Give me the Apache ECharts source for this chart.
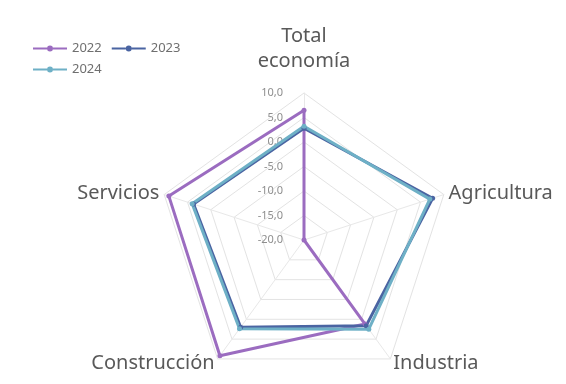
<!DOCTYPE html>
<html>
<head>
<meta charset="utf-8">
<script src="https://cdn.jsdelivr.net/npm/echarts@6/dist/echarts.min.js"></script>
<style>
  html, body { margin: 0; padding: 0; background: #ffffff; }
  #chart { width: 566px; height: 384px; }
</style>
</head>
<body>
<div id="chart"></div>
<script>
// Sectors, listed clockwise from the top of the web
const categories = ['Total economía', 'Agricultura', 'Industria', 'Construcción', 'Servicios'];

// Growth rates (%) per sector
const values2022 = [6.5, -20.0, 1.2, 9.2, 9.0];
const values2023 = [2.8, 7.6, 1.6, 2.0, 3.7];
const values2024 = [3.2, 7.0, 2.5, 2.4, 4.0];

const years = ['2022', '2023', '2024'];
const colors = ['#9b6cc0', '#4a64a2', '#6eb0c6'];

// ECharts lays indicators out counter-clockwise, so walk the list backwards after the first one
const order = [0, 4, 3, 2, 1];
const reorder = arr => order.map(i => arr[i]);

const indicator = order.map((i, k) => {
  const ind = { name: categories[i], min: -20, max: 10 };
  if (k === 0) {
    ind.axisLabel = {
      show: true,
      color: '#8e8e8e',
      fontSize: 11,
      fontFamily: 'Noto Sans',
      margin: 21,
      formatter: v => v.toFixed(1).replace('.', ',')
    };
  }
  return ind;
});

const legendIcon = 'path://M0,2H14V4H0Z M20,2H34V4H20Z M14,3A3,3 0 1,0 20,3A3,3 0 1,0 14,3Z';

const seriesData = [values2022, values2023, values2024].map((vals, k) => ({
  name: years[k],
  value: reorder(vals),
  symbol: 'circle',
  symbolSize: 5,
  itemStyle: { color: colors[k] },
  lineStyle: { color: colors[k], width: 3 }
}));

const legendText = { color: '#6f6f6f', fontSize: 13, fontFamily: 'Noto Sans' };

const chart = echarts.init(document.getElementById('chart'), null, { renderer: 'canvas' });
chart.setOption({
  animation: false,
  backgroundColor: '#ffffff',
  textStyle: { fontFamily: 'Noto Sans' },
  legend: [
    {
      data: ['2022', '2023'],
      left: 28, top: 37,
      itemWidth: 34, itemHeight: 6, itemGap: 10,
      icon: legendIcon,
      textStyle: legendText
    },
    {
      data: ['2024'],
      left: 28, top: 58,
      itemWidth: 34, itemHeight: 6,
      icon: legendIcon,
      textStyle: legendText
    }
  ],
  radar: {
    center: [304, 240],
    radius: 147,
    startAngle: 90,
    splitNumber: 6,
    shape: 'polygon',
    nameGap: 5,
    axisName: {
      color: '#595959',
      fontSize: 20,
      lineHeight: 25,
      fontFamily: 'Noto Sans',
      formatter: name => name === categories[0] ? 'Total\neconomía\n{sp|}' : name,
      rich: { sp: { height: 8, lineHeight: 8 } }
    },
    splitArea: { show: false },
    splitLine: { lineStyle: { color: '#e3e3e3', width: 1 } },
    axisLine: { lineStyle: { color: '#e8e8e8', width: 1 } },
    axisTick: { show: false },
    indicator: indicator
  },
  series: [{
    type: 'radar',
    data: seriesData
  }]
});
</script>
</body>
</html>
